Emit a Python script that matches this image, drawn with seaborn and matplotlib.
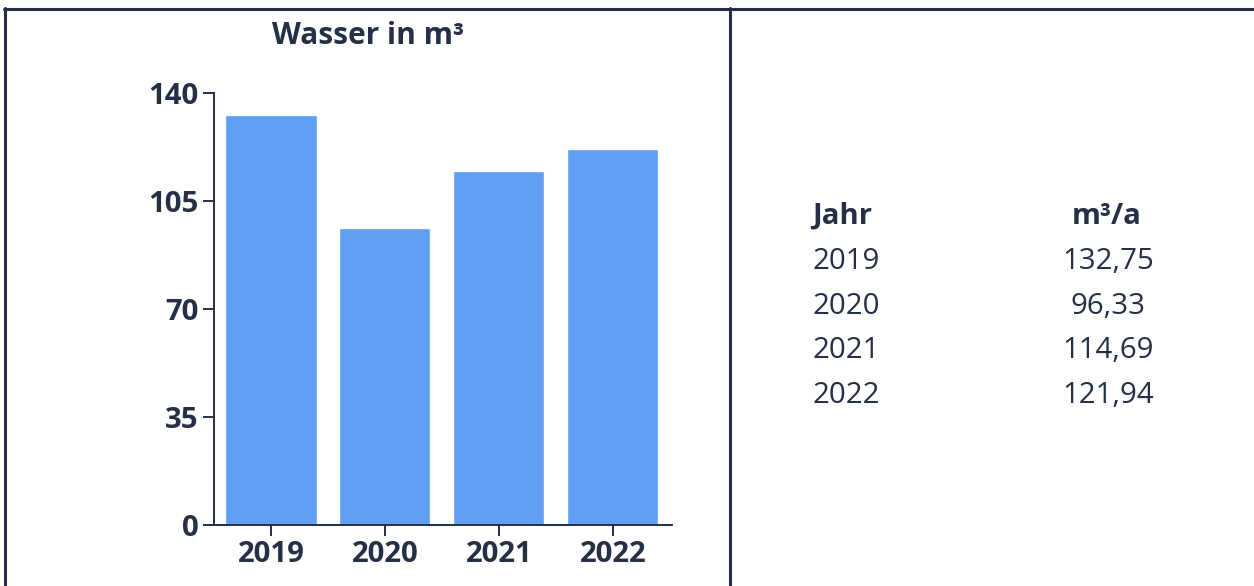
import matplotlib
matplotlib.use("Agg")
import matplotlib.pyplot as plt
from matplotlib.lines import Line2D
import seaborn as sns
import pandas as pd

years = ["2019", "2020", "2021", "2022"]
values = [132.75, 96.33, 114.69, 121.94]
value_labels = ["132,75", "96,33", "114,69", "121,94"]
y_ticks = [0, 35, 70, 105, 140]
title = "Wasser in m³"
col_headers = ["Jahr", "m³/a"]

NAVY = "#253047"
BAR = "#5f9ef2"
FS = 21.2

sns.set_theme(style="white")
plt.rcParams["font.family"] = ["Open Sans", "DejaVu Sans"]

W, H = 1254, 586
fig = plt.figure(figsize=(W / 100, H / 100), dpi=100)
fig.patch.set_facecolor("white")

def fx(px):
    return px / W

def fy(py):
    return 1 - py / H

# axes placement
left, right, top, bottom = 214, 672, 93, 525
ax = fig.add_axes([fx(left), fy(bottom), (right - left) / W, (bottom - top) / H])
df = pd.DataFrame({"Jahr": years, "Wert": values})
sns.barplot(data=df, x="Jahr", y="Wert", color=BAR, saturation=1, width=0.8, ax=ax)
ax.set_xlim(-0.5, 3.52)
ax.set_ylim(0, 140)
ax.set_yticks(y_ticks)
ax.set_xlabel("")
ax.set_ylabel("")
for s in ["top", "right"]:
    ax.spines[s].set_visible(False)
for s in ["left", "bottom"]:
    ax.spines[s].set_color(NAVY)
    ax.spines[s].set_linewidth(1.4)
ax.tick_params(axis="both", length=8, width=1.4, color=NAVY, labelcolor=NAVY,
               labelsize=FS, left=True, bottom=True)
ax.tick_params(axis="y", pad=3)
ax.tick_params(axis="x", pad=2.5)
for lab in ax.get_xticklabels() + ax.get_yticklabels():
    lab.set_fontweight("bold")
ax.set_facecolor("white")

# title
fig.text(fx(368), fy(44), title, ha="center", va="baseline", fontsize=FS + 0.3,
         fontweight="bold", color=NAVY)

# frame lines
lw = 2.2
fig.add_artist(Line2D([fx(4), fx(1254)], [fy(9), fy(9)], color=NAVY, lw=lw))
fig.add_artist(Line2D([fx(5), fx(5)], [fy(8), fy(586)], color=NAVY, lw=lw))
fig.add_artist(Line2D([fx(730), fx(730)], [fy(8), fy(586)], color=NAVY, lw=lw))

# table
fig.text(fx(812), fy(224), col_headers[0], ha="left", va="baseline", fontsize=FS,
         fontweight="bold", color=NAVY)
fig.text(fx(1107), fy(224), col_headers[1], ha="center", va="baseline", fontsize=FS,
         fontweight="bold", color=NAVY)
for i, (yr, vl) in enumerate(zip(years, value_labels)):
    yb = 269 + i * 44.7
    fig.text(fx(812), fy(yb), yr, ha="left", va="baseline", fontsize=FS, color=NAVY)
    fig.text(fx(1108), fy(yb), vl, ha="center", va="baseline", fontsize=FS, color=NAVY)

fig.savefig("out.png", dpi=100, facecolor="white")
